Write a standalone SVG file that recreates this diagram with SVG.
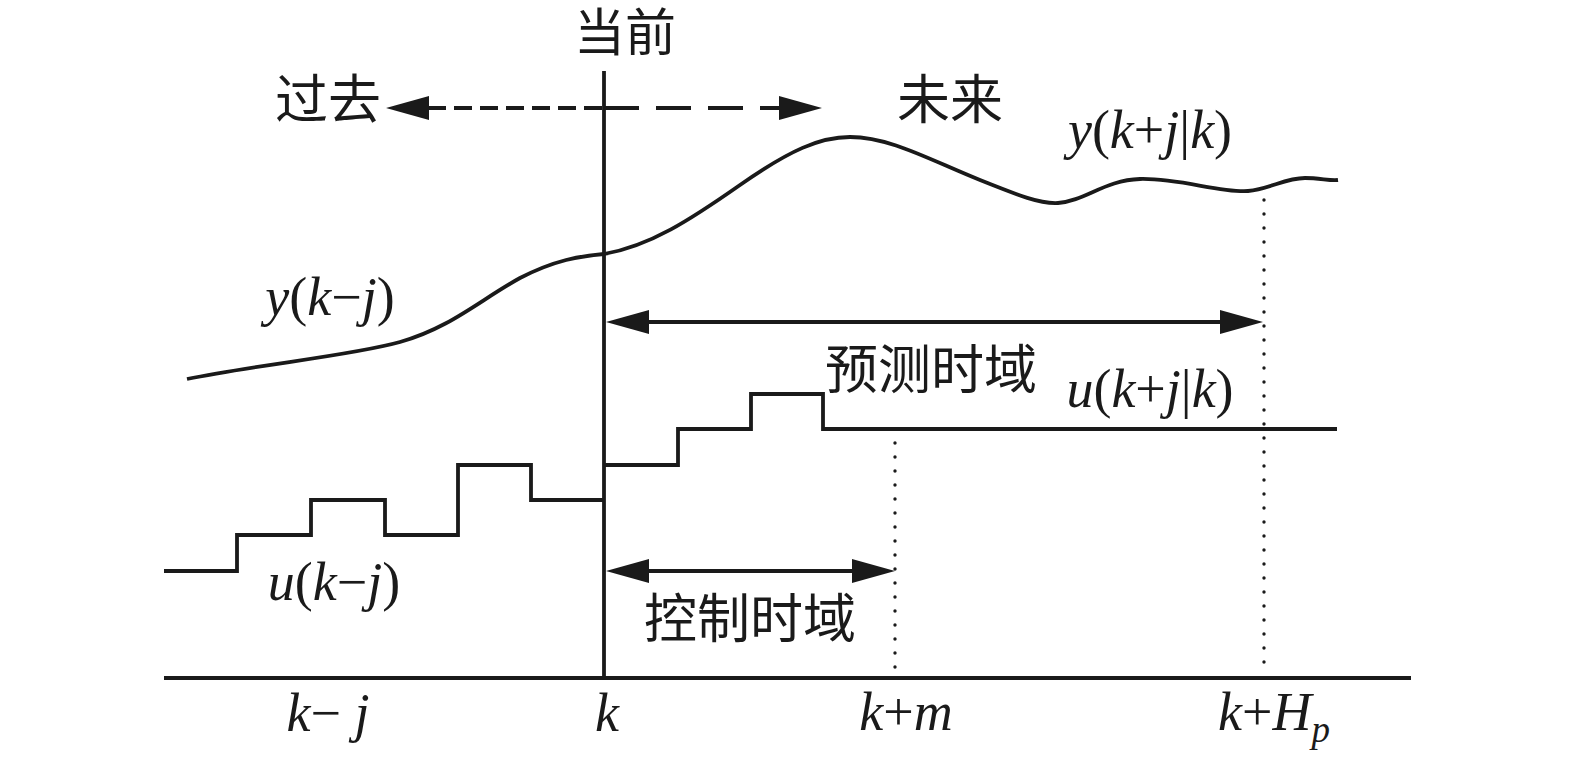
<svg xmlns="http://www.w3.org/2000/svg" width="1575" height="760" viewBox="0 0 1575 760">
<style>
.ln{fill:none;stroke:#1a1a1a;stroke-width:3.8;stroke-linejoin:miter;stroke-linecap:butt}
.dot{fill:none;stroke:#1a1a1a;stroke-width:3.4;stroke-linecap:round;stroke-dasharray:0 14}
.ah{fill:#1a1a1a;stroke:none}
.cn{font-family:"Noto Sans CJK SC","Noto Sans CJK JP",sans-serif;font-size:53px;font-weight:400;fill:#1a1a1a;text-anchor:middle}
.m{font-family:"Liberation Serif","Times New Roman",serif;font-size:54px;fill:#1a1a1a}
.i{font-style:italic}
</style>
<rect width="1575" height="760" fill="#ffffff"/>
<g id="connectors">
  <path class="ln" d="M164,678 H1411" style="stroke-width:4.2"/>
  <path class="ln" d="M604,71 V678"/>
  <path class="ln" d="M428,108 H604" style="stroke-dasharray:18 8"/>
  <path class="ln" d="M604,108 H779" style="stroke-dasharray:35 17"/>
  <polygon class="ah" points="386,108 429,96 429,120"/>
  <polygon class="ah" points="822,108 779,96 779,120"/>
  <path class="ln" d="M648,322 H1221"/>
  <polygon class="ah" points="606,322 649,310 649,334"/>
  <polygon class="ah" points="1263,322 1220,310 1220,334"/>
  <path class="ln" d="M648,571 H853"/>
  <polygon class="ah" points="606,571 649,559 649,583"/>
  <polygon class="ah" points="895,571 852,559 852,583"/>
  <path class="dot" d="M895,443 V672"/>
  <path class="dot" d="M1264,200 V672"/>
</g>
<g id="curve-past">
  <path class="ln" d="M187,379 C260,364 350,356 400,342 C450,328 480,300 520,278 C555,260 580,256 604,254"/>
</g>
<g id="curve-future">
  <path class="ln" d="M604,254 C650,246 690,220 740,185 C790,150 820,137 850,137 C890,137 930,160 980,180 C1020,196 1040,204 1058,203 C1085,201 1105,180 1140,179 C1180,178 1220,193 1248,191 C1270,189 1285,178 1305,178 C1320,178 1330,181 1338,180"/>
</g>
<g id="step-past">
  <path class="ln" d="M164,571 H237 V535 H311 V500 H385 V535 H458 V465 H531 V500 H604"/>
</g>
<g id="step-future">
  <path class="ln" d="M604,465 H678 V429 H751 V394 H823 V429 H1337"/>
</g>
<g id="labels-cn">
  <text class="cn" x="625" y="51" style="font-size:51px">当前</text>
  <text class="cn" x="328" y="119">过去</text>
  <text class="cn" x="950" y="119">未来</text>
  <text class="cn" x="931" y="389">预测时域</text>
  <text class="cn" x="750" y="638">控制时域</text>
</g>
<g id="labels-math">
  <text class="m" x="330" y="315" text-anchor="middle"><tspan class="i">y</tspan>(<tspan class="i">k</tspan>−<tspan class="i">j</tspan>)</text>
  <text class="m" x="334" y="600" text-anchor="middle"><tspan class="i">u</tspan>(<tspan class="i">k</tspan>−<tspan class="i">j</tspan>)</text>
  <text class="m" x="1150" y="148" text-anchor="middle"><tspan class="i">y</tspan>(<tspan class="i">k</tspan>+<tspan class="i">j</tspan>|<tspan class="i">k</tspan>)</text>
  <text class="m" x="1150" y="407" text-anchor="middle"><tspan class="i">u</tspan>(<tspan class="i">k</tspan>+<tspan class="i">j</tspan>|<tspan class="i">k</tspan>)</text>
  <text class="m" x="328" y="731" text-anchor="middle"><tspan class="i">k</tspan>− <tspan class="i">j</tspan></text>
  <text class="m i" x="607" y="731" text-anchor="middle">k</text>
  <text class="m" x="906" y="730" text-anchor="middle"><tspan class="i">k</tspan>+<tspan class="i">m</tspan></text>
  <text class="m" x="1218" y="730"><tspan class="i">k</tspan>+<tspan class="i">H</tspan><tspan class="i" font-size="37" dy="12">p</tspan></text>
</g>
</svg>
